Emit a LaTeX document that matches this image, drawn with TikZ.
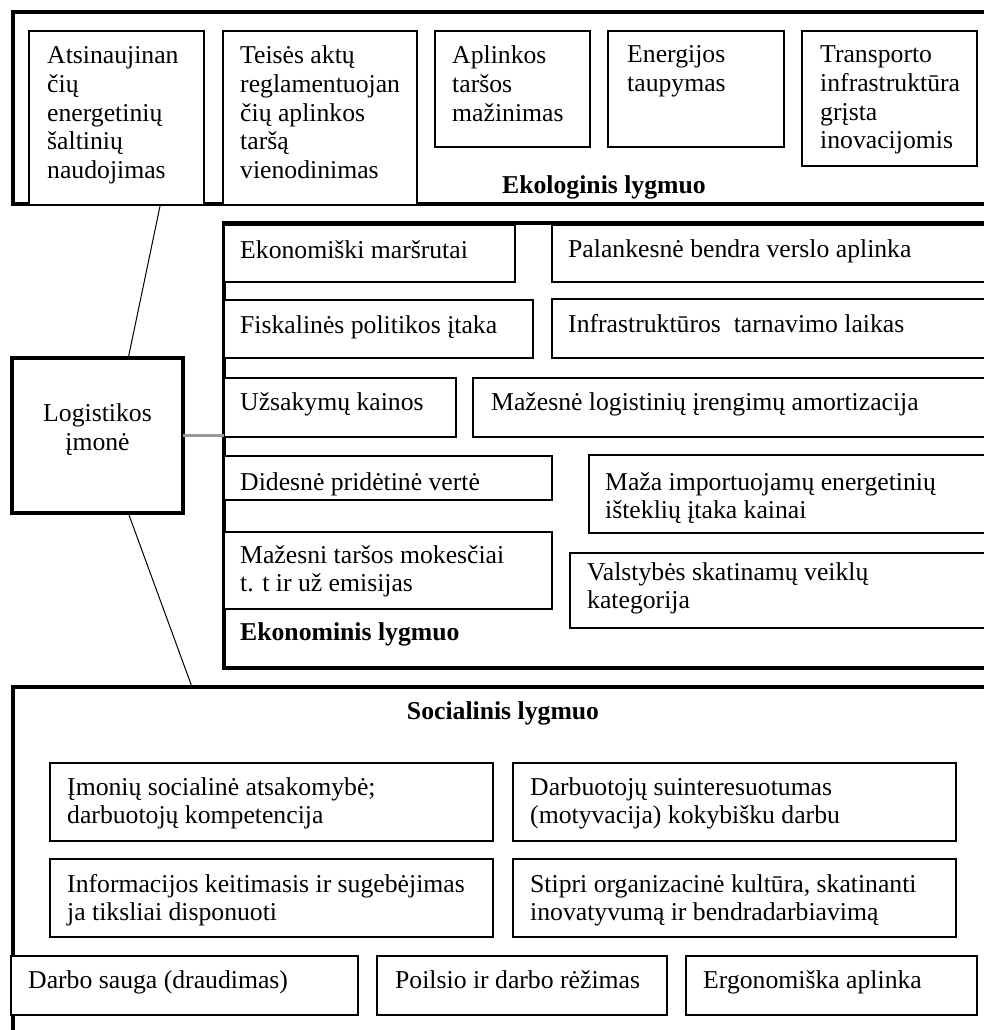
\documentclass[tikz,border=0pt]{standalone}
\usepackage{fontspec}
\setmainfont{Liberation Serif}
\usetikzlibrary{calc}
\newcommand\bodyfont{\fontsize{25.7}{28.6}\selectfont}
% left-aligned block of lines whose baseline is that of its first line
\newcommand\lines[1]{\begin{tabular}[t]{@{}l@{}}#1\end{tabular}}

\begin{document}
\begin{tikzpicture}[x=1pt,y=-1pt,
  frame/.style={draw, line width=3.5pt, fill=white, inner sep=0pt, outer sep=0pt, anchor=north west},
  cell/.style={draw, line width=1.6pt, fill=white, inner sep=0pt, outer sep=0pt, anchor=north west},
  hub/.style={draw, line width=4pt, fill=white, inner sep=0pt, outer sep=0pt, anchor=north west},
  lbl/.style={anchor=base west, inner sep=0pt, font=\bodyfont},
  heading/.style={anchor=base west, inner sep=0pt, font=\bodyfont\bfseries},
  link/.style={draw, line width=1pt},
  graylink/.style={draw, line width=2.5pt, color=black!40}]
\useasboundingbox (0,0) rectangle (984,1030);
\clip (0,0) rectangle (984,1030);

% ---- ecological level ----
\node[frame, minimum width=990pt, minimum height=192pt] (eko) at (13,12) {};
\node[cell, minimum width=175pt, minimum height=174pt] (e1) at (29,31) {};
\node[cell, minimum width=194pt, minimum height=174pt] (e2) at (223,31) {};
\node[cell, minimum width=155pt, minimum height=116pt] (e3) at (435,31) {};
\node[cell, minimum width=176pt, minimum height=116pt] (e4) at (608,31) {};
\node[cell, minimum width=175pt, minimum height=135pt] (e5) at (802,31) {};
\node[lbl] (e1t) at (47,64) {\lines{Atsinaujinan\\čių\\energetinių\\šaltinių\\naudojimas}};
\node[lbl] (e2t) at (240,64) {\lines{Teisės aktų\\reglamentuojan\\čių aplinkos\\taršą\\vienodinimas}};
\node[lbl] (e3t) at (452,64) {\lines{Aplinkos\\taršos\\mažinimas}};
\node[lbl] (e4t) at (627,63) {\lines{Energijos\\taupymas}};
\node[lbl] (e5t) at (820,63) {\lines{Transporto\\infrastruktūra\\grįsta\\inovacijomis}};
\node[heading] (ekot) at (502,193) {Ekologinis lygmuo};

% ---- economic level ----
\node[frame, minimum width=780pt, minimum height=445pt] (econ) at (224,223) {};
\node[cell, minimum width=291pt, minimum height=57pt] (b1) at (224,225) {};
\node[cell, minimum width=450pt, minimum height=57pt] (b2) at (552,225) {};
\node[cell, minimum width=309pt, minimum height=58pt] (b3) at (224,300) {};
\node[cell, minimum width=450pt, minimum height=59pt] (b4) at (552,299) {};
\node[cell, minimum width=232pt, minimum height=59pt] (b5) at (224,378) {};
\node[cell, minimum width=530pt, minimum height=59pt] (b6) at (473,378) {};
\node[cell, minimum width=328pt, minimum height=44pt] (b7) at (224,456) {};
\node[cell, minimum width=415pt, minimum height=78pt] (b8) at (589,455) {};
\node[cell, minimum width=328pt, minimum height=77pt] (b9) at (224,532) {};
\node[cell, minimum width=434pt, minimum height=75pt] (b10) at (570,553) {};
\node[lbl] (b1t) at (240,258) {Ekonomiški maršrutai};
\node[lbl] (b2t) at (568,257) {Palankesnė bendra verslo aplinka};
\node[lbl] (b3t) at (240,333) {Fiskalinės politikos įtaka};
\node[lbl] (b4t) at (568,332) {Infrastruktūros~ tarnavimo laikas};
\node[lbl] (b5t) at (240,410) {Užsakymų kainos};
\node[lbl] (b6t) at (491,410) {Mažesnė logistinių įrengimų amortizacija};
\node[lbl] (b7t) at (240,490) {Didesnė pridėtinė vertė};
\node[lbl] (b8t) at (605,490) {\lines{Maža importuojamų energetinių\\išteklių įtaka kainai}};
\node[lbl] (b9t) at (240,563) {\lines{Mažesni taršos mokesčiai\\t. t ir už emisijas}};
\node[lbl] (b10t) at (587,580) {\lines{Valstybės skatinamų veiklų\\kategorija}};
\node[heading] (econt) at (240,640) {Ekonominis lygmuo};

% ---- social level ----
\node[frame, minimum width=990pt, minimum height=360pt] (soc) at (13,687) {};
\node[heading, anchor=base] (soct) at (503,719) {Socialinis lygmuo};
\node[cell, minimum width=443pt, minimum height=78pt] (s1) at (50,763) {};
\node[cell, minimum width=443pt, minimum height=78pt] (s2) at (513,763) {};
\node[cell, minimum width=443pt, minimum height=78pt] (s3) at (50,859) {};
\node[cell, minimum width=443pt, minimum height=78pt] (s4) at (513,859) {};
\node[cell, minimum width=347pt, minimum height=59pt] (s5) at (11,956) {};
\node[cell, minimum width=290pt, minimum height=59pt] (s6) at (377,956) {};
\node[cell, minimum width=291pt, minimum height=59pt] (s7) at (686,956) {};
\node[lbl] (s1t) at (67,795) {\lines{Įmonių socialinė atsakomybė;\\darbuotojų kompetencija}};
\node[lbl] (s2t) at (530,795) {\lines{Darbuotojų suinteresuotumas\\(motyvacija) kokybišku darbu}};
\node[lbl] (s3t) at (67,892) {\lines{Informacijos keitimasis ir sugebėjimas\\ja tiksliai disponuoti}};
\node[lbl] (s4t) at (530,892) {\lines{Stipri organizacinė kultūra, skatinanti\\inovatyvumą ir bendradarbiavimą}};
\node[lbl] (s5t) at (28,988) {Darbo sauga (draudimas)};
\node[lbl] (s6t) at (395,988) {Poilsio ir darbo rėžimas};
\node[lbl] (s7t) at (703,988) {Ergonomiška aplinka};

% ---- the company and its links to the three levels ----
\node[hub, minimum width=171pt, minimum height=155pt] (log) at (12,358) {};
\node[font=\bodyfont, align=center, inner sep=0pt] (logt) at ($(log.center)+(0,-6)$) {Logistikos\\įmonė};

\draw[link] ($(e1.south west)!0.75!(e1.south east)$) -- ($(log.north west)!0.68!(log.north east)$);
\draw[link] ($(log.south west)!0.68!(log.south east)$) -- ($(soc.north west)+(179,0)$);
\draw[graylink] (log.east) -- (log.east -| econ.west);
\end{tikzpicture}
\end{document}
